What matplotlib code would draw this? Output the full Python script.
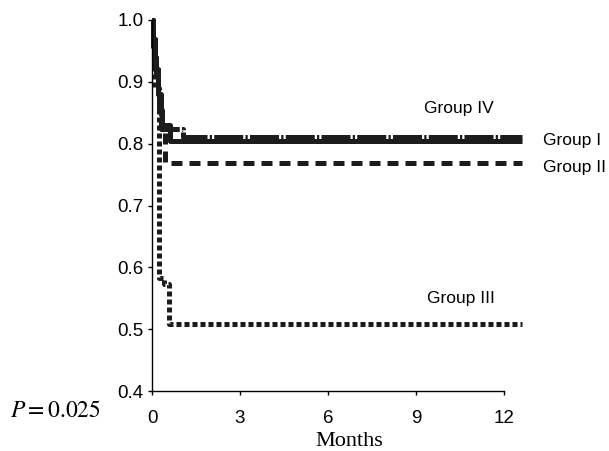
import matplotlib
matplotlib.use("Agg")
import matplotlib.pyplot as plt

plt.rcParams['font.family'] = ['Liberation Sans', 'DejaVu Sans']
plt.rcParams['mathtext.fontset'] = 'stix'

# Kaplan-Meier style step data (months, survival proportion)
g1_t = [0, 0.05, 0.10, 0.15, 0.20, 0.25, 0.33, 0.60, 12.6]
g1_s = [1.0, 0.97, 0.94, 0.91, 0.88, 0.855, 0.83, 0.805, 0.805]

g2_t = [0, 0.04, 0.10, 0.20, 0.30, 0.45, 12.6]
g2_s = [1.0, 0.97, 0.93, 0.88, 0.83, 0.769, 0.769]

g3_t = [0, 0.03, 0.08, 0.24, 0.40, 0.58, 12.6]
g3_s = [1.0, 0.95, 0.89, 0.582, 0.573, 0.508, 0.508]

g4_t = [0, 0.05, 0.10, 0.20, 0.30, 1.05, 12.6]
g4_s = [1.0, 0.96, 0.92, 0.88, 0.824, 0.811, 0.811]

x_ticks = [0, 3, 6, 9, 12]
y_ticks = [0.4, 0.5, 0.6, 0.7, 0.8, 0.9, 1.0]

W, H = 609, 451
fig = plt.figure(figsize=(W / 100, H / 100), dpi=100)
ax = fig.add_axes([152 / W, 1 - 391 / H, (504 - 152) / W, (391 - 20) / H])

col = '#1c1c1c'
lw = 3.6
l2, = ax.step(g2_t, g2_s, where='post', color=col, lw=lw, clip_on=False)
l2.set_dashes([2.2, 1.4])
l3, = ax.step(g3_t, g3_s, where='post', color=col, lw=lw, clip_on=False)
l3.set_dashes([1.0, 0.6])
l1, = ax.step(g1_t, g1_s, where='post', color=col, lw=lw, clip_on=False)
l4, = ax.step(g4_t, g4_s, where='post', color=col, lw=lw, clip_on=False)
l4.set_dashes([5.8, 0.45, 0.45, 0.45])
for l in (l1, l2, l3, l4):
    l.set_dash_capstyle('butt')
    l.set_solid_capstyle('butt')

ax.set_xlim(0, 12)
ax.set_ylim(0.4, 1.0)
ax.set_xticks(x_ticks)
ax.set_xticklabels([str(v) for v in x_ticks])
ax.set_yticks(y_ticks)
ax.set_yticklabels([f"{v:.1f}" for v in y_ticks])
for s in ('top', 'right'):
    ax.spines[s].set_visible(False)
for s in ('left', 'bottom'):
    ax.spines[s].set_linewidth(1.0)
    ax.spines[s].set_color('black')
ax.tick_params(direction='out', length=3, width=1, labelsize=13.5, pad=3)
ax.tick_params(axis='x', pad=10.5)


def ftext(x, y, s, **kw):
    fig.text(x / W, 1 - y / H, s, va='center', **kw)


ftext(349, 442, 'Months', ha='center', family=['Liberation Serif'], fontsize=16)
ftext(424, 108, 'Group IV', ha='left', fontsize=12.5)
ftext(543, 141, 'Group I', ha='left', fontsize=12.5)
ftext(543, 167, 'Group II', ha='left', fontsize=12.5)
ftext(427, 298, 'Group III', ha='left', fontsize=12.5)
ftext(10, 411, r'$P=0.025$', ha='left', fontsize=17)

fig.savefig('out.png', dpi=100)
